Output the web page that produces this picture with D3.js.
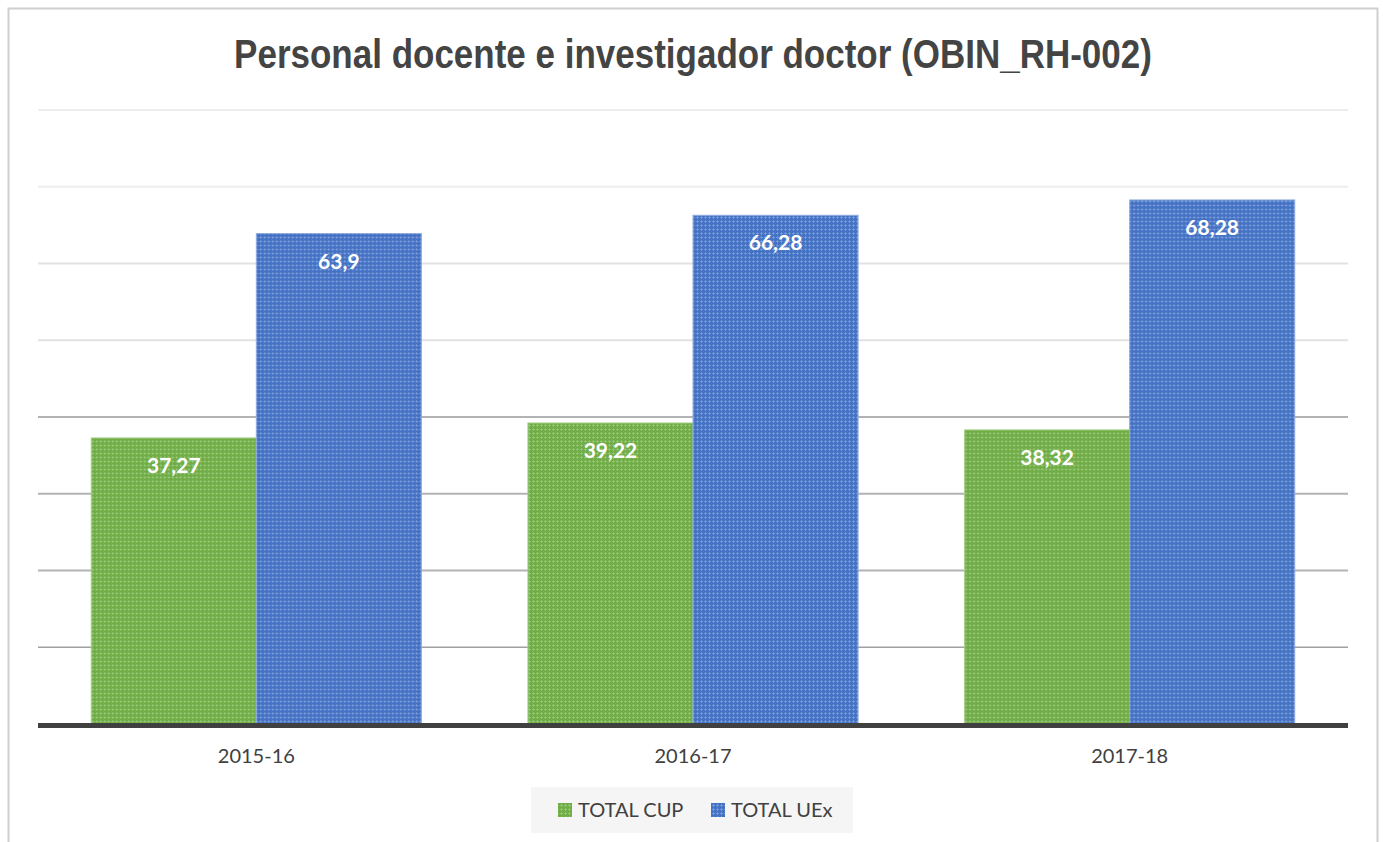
<!DOCTYPE html>
<html>
<head>
<meta charset="utf-8">
<script src="https://cdn.jsdelivr.net/npm/d3@7"></script>
<style>
  html, body { margin: 0; padding: 0; background: #ffffff; }
  svg { display: block; }
</style>
</head>
<body>
<svg id="chart" width="1383" height="842"></svg>
<script>
// ---- data ----
const title = "Personal docente e investigador doctor (OBIN_RH-002)";
const categories = ["2015-16", "2016-17", "2017-18"];
const seriesNames = ["TOTAL CUP", "TOTAL UEx"];
const cupValues = [37.27, 39.22, 38.32];
const uexValues = [63.9, 66.28, 68.28];
const yTicks = [0, 10, 20, 30, 40, 50, 60, 70, 80];
const labelFormat = v => String(v).replace(".", ",");

// ---- build ----
const svg = d3.select("#chart");
const W = 1383, H = 842;
const plot = { left: 38, right: 1348, top: 110, bottom: 724 };

const seriesValues = [cupValues, uexValues];
const colors = ["#70ad47", "#4472c4"];
const dotColors = ["#a4cf86", "#8eaae0"];

// patterns (dotted texture)
const defs = svg.append("defs");
colors.forEach((c, i) => {
  const p = defs.append("pattern")
    .attr("id", "pat" + i)
    .attr("patternUnits", "userSpaceOnUse")
    .attr("width", 4).attr("height", 4);
  p.append("rect").attr("width", 4).attr("height", 4).attr("fill", c);
  p.append("rect").attr("x", 0).attr("y", 1).attr("width", 3).attr("height", 1).attr("fill", dotColors[i]).attr("opacity", 0.55);
  p.append("rect").attr("x", 1).attr("y", 0).attr("width", 1).attr("height", 3).attr("fill", dotColors[i]).attr("opacity", 0.55);
});

// outer border
svg.append("rect")
  .attr("x", 8.5).attr("y", 8.5)
  .attr("width", 1369).attr("height", 860)
  .attr("fill", "#ffffff")
  .attr("stroke", "#cfcfcf").attr("stroke-width", 2);

const y = d3.scaleLinear().domain([0, 80]).range([plot.bottom, plot.top]);
const x0 = d3.scaleBand().domain(categories)
  .range([plot.left, plot.right])
  .paddingInner(0.244).paddingOuter(0.122);
const x1 = d3.scaleBand().domain(seriesNames).range([0, x0.bandwidth()]).padding(0);

// gridlines
const gridStyle = v => {
  if (v >= 70) return ["#ececec", 2];
  if (v >= 50) return ["#e2e2e2", 2];
  if (v >= 20) return ["#b3b3b3", 2];
  return ["#a0a0a0", 1.5];
};
const grid = svg.append("g").attr("class", "grid");
grid.selectAll("line")
  .data(yTicks.filter(t => t > 0))
  .enter().append("line")
  .attr("x1", plot.left).attr("x2", plot.right)
  .attr("y1", d => y(d)).attr("y2", d => y(d))
  .attr("stroke", d => gridStyle(d)[0])
  .attr("stroke-width", d => gridStyle(d)[1]);

// bars
const groups = svg.append("g").selectAll("g")
  .data(categories)
  .enter().append("g")
  .attr("transform", d => `translate(${x0(d)},0)`);

groups.selectAll("rect")
  .data((d, ci) => seriesNames.map((s, si) => ({ s, si, v: seriesValues[si][ci] })))
  .enter().append("rect")
  .attr("x", d => x1(d.s))
  .attr("y", d => y(d.v))
  .attr("width", x1.bandwidth())
  .attr("height", d => y(0) - y(d.v))
  .attr("fill", d => `url(#pat${d.si})`)
  .attr("stroke", d => dotColors[d.si])
  .attr("stroke-width", 1);

// data labels
groups.selectAll("text")
  .data((d, ci) => seriesNames.map((s, si) => ({ s, si, v: seriesValues[si][ci] })))
  .enter().append("text")
  .attr("x", d => x1(d.s) + x1.bandwidth() / 2)
  .attr("y", d => y(d.v) + 35)
  .attr("text-anchor", "middle")
  .attr("fill", "#ffffff")
  .attr("font-family", "Lato, 'Open Sans', sans-serif")
  .attr("font-weight", 700)
  .attr("font-size", 21)
  .text(d => labelFormat(d.v));

// x axis baseline
svg.append("line")
  .attr("x1", plot.left).attr("x2", plot.right)
  .attr("y1", y(0) + 1.5).attr("y2", y(0) + 1.5)
  .attr("stroke", "#404040").attr("stroke-width", 5);

// x axis labels
const xAxis = d3.axisBottom(x0).tickSize(0).tickPadding(0);
const xg = svg.append("g").attr("transform", `translate(0,${plot.bottom})`).call(xAxis);
xg.select(".domain").remove();
xg.selectAll("text")
  .attr("y", 39)
  .attr("dy", 0)
  .attr("fill", "#404040")
  .attr("font-family", "Lato, 'Open Sans', sans-serif")
  .attr("font-size", 20);

// title (compressed horizontally to mimic a narrow face)
const titleTargetWidth = 918;
const tg = svg.append("g");
const tt = tg.append("text")
  .attr("x", 0).attr("y", 0)
  .attr("text-anchor", "middle")
  .attr("fill", "#444444")
  .attr("font-family", "'Liberation Sans Narrow', 'Arial Narrow', 'Liberation Sans', sans-serif")
  .attr("font-weight", 700)
  .attr("font-size", 41)
  .text(title);
const tw = tt.node().getComputedTextLength();
const sx = Math.min(1, titleTargetWidth / tw);
tg.attr("transform", `translate(693,68) scale(${sx},1)`);

// legend
const lg = svg.append("g");
lg.append("rect")
  .attr("x", 531).attr("y", 787).attr("width", 322).attr("height", 46)
  .attr("fill", "#f5f5f5");
const legendX = [558, 711];
seriesNames.forEach((s, i) => {
  lg.append("rect")
    .attr("x", legendX[i]).attr("y", 803).attr("width", 14).attr("height", 14)
    .attr("fill", `url(#pat${i})`);
  lg.append("text")
    .attr("x", legendX[i] + 20).attr("y", 817)
    .attr("fill", "#404040")
    .attr("font-family", "Lato, 'Open Sans', sans-serif")
    .attr("font-size", 20)
    .text(s);
});
</script>
</body>
</html>
